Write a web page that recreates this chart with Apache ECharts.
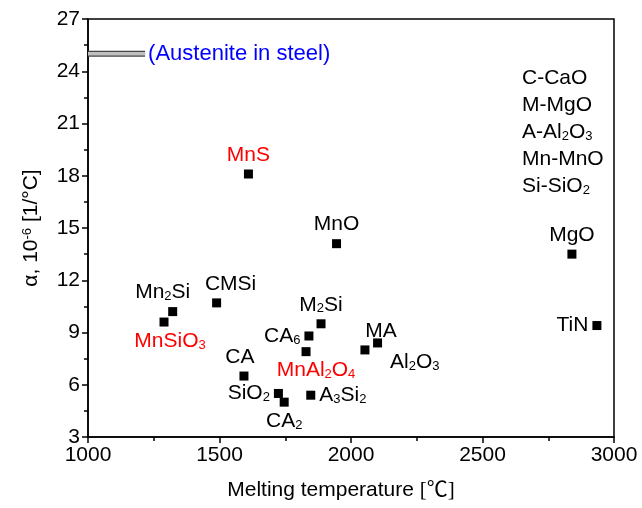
<!DOCTYPE html>
<html>
<head>
<meta charset="utf-8">
<script src="https://cdn.jsdelivr.net/npm/echarts@6/dist/echarts.min.js"></script>
<style>
    html, body { margin: 0; padding: 0; background: #fff; }
    #chart { width: 642px; height: 508px; }
</style>
</head>
<body>
<div id="chart"></div>
<script>
// data
var names    = ['MnS', 'MnO', 'MgO', 'TiN', 'Mn2Si', 'MnSiO3', 'CMSi', 'CA', 'SiO2', 'CA2', 'A3Si2', 'CA6', 'MnAl2O4', 'M2Si', 'MA', 'Al2O3'];
var meltTemp = [1610, 1945, 2840, 2935, 1322, 1289, 1489, 1593, 1724, 1746, 1847, 1840, 1829, 1886, 2053, 2101];
var alpha    = [18.1, 14.1, 13.5, 9.4, 10.2, 9.6, 10.7, 6.5, 5.5, 5.0, 5.4, 8.8, 7.9, 9.5, 8.0, 8.4];
var redNames = ['MnS', 'MnSiO3', 'MnAl2O4'];
var austenite = [[1000, 25], [1217, 25]];
var abbreviations = ['C-CaO', 'M-MgO', 'A-Al2O3', 'Mn-MnO', 'Si-SiO2'];

// where each label sits around its square
var labelPlace = {
    'MnS':     { position: 'top' },
    'MnO':     { position: 'top' },
    'MgO':     { position: 'top' },
    'TiN':     { position: 'left' },
    'Mn2Si':   { position: 'top', offset: [-10, 0] },
    'MnSiO3':  { position: 'bottom', offset: [6, 0] },
    'CMSi':    { position: 'top', offset: [14, 0] },
    'CA':      { position: 'top', offset: [-4, 0] },
    'SiO2':    { position: 'left' },
    'CA2':     { position: 'bottom' },
    'A3Si2':   { position: 'right' },
    'CA6':     { position: 'left' },
    'MnAl2O4': { position: 'bottom', offset: [10, 0] },
    'M2Si':    { position: 'top' },
    'MA':      { position: 'top', offset: [16, 0] },
    'Al2O3':   { position: 'right', offset: [4, 19] }
};

var FONT = 'Liberation Sans, Arial, sans-serif';
var FS = 21;

// digits become subscripts
function subify(s, style) {
    return s.replace(/(\d)/g, '{' + style + '|$1}');
}

var subRich = {
    s:  { fontSize: 13, color: '#000', fontFamily: FONT, verticalAlign: 'bottom' },
    sr: { fontSize: 13, color: '#ff0000', fontFamily: FONT, verticalAlign: 'bottom' }
};

var pointData = names.map(function (n, i) {
    var red = redNames.indexOf(n) >= 0;
    var lp = labelPlace[n];
    return {
        name: n,
        value: [meltTemp[i], alpha[i]],
        label: {
            show: true,
            position: lp.position,
            offset: lp.offset || [0, 0],
            distance: 4,
            color: red ? '#ff0000' : '#000',
            formatter: subify(n, red ? 'sr' : 's')
        }
    };
});

// abbreviation key, top right
var keyTexts = abbreviations.map(function (a, i) {
    return {
        type: 'text',
        left: 522, top: 68 + i * 27,
        style: {
            text: subify(a, 's'),
            font: FS + 'px ' + FONT,
            fill: '#000',
            rich: { s: { fontSize: 13, fill: '#000', fontFamily: FONT, verticalAlign: 'bottom' } }
        }
    };
});

var myChart = echarts.init(document.getElementById('chart'));
var option = {
    backgroundColor: '#fff',
    animation: false,
    textStyle: { fontFamily: FONT },
    grid: {
        left: 88, right: 28, top: 19, bottom: 71,
        show: true, borderColor: '#000', borderWidth: 1.5
    },
    xAxis: {
        type: 'value',
        min: 1000, max: 3000, interval: 500,
        name: 'Melting temperature {u|[℃]}',
        nameLocation: 'middle',
        nameGap: 43,
        nameTextStyle: {
            fontSize: FS, color: '#000', fontFamily: FONT,
            padding: [0, 20, 0, 0],
            rich: { u: { fontSize: FS, color: '#000', fontFamily: 'Liberation Serif, Noto Sans CJK SC, serif' } }
        },
        axisLine: { lineStyle: { color: '#000', width: 1.5 } },
        axisTick: { inside: false, length: 6, lineStyle: { color: '#000', width: 1.5 } },
        minorTick: { show: true, splitNumber: 2, length: 4, lineStyle: { color: '#000', width: 1.5 } },
        axisLabel: { fontSize: FS, color: '#000', margin: 8, fontFamily: FONT, formatter: function (v) { return String(v); } },
        splitLine: { show: false }
    },
    yAxis: {
        type: 'value',
        min: 3, max: 27, interval: 3,
        name: 'α, 10{sup|-6} [1/°C]',
        nameLocation: 'middle',
        nameGap: 46,
        nameRotate: 90,
        nameTextStyle: {
            fontSize: FS, color: '#000', fontFamily: FONT,
            rich: { sup: { fontSize: 13, color: '#000', fontFamily: FONT, verticalAlign: 'top' } }
        },
        axisLine: { lineStyle: { color: '#000', width: 1.5 } },
        axisTick: { inside: false, length: 6, lineStyle: { color: '#000', width: 1.5 } },
        minorTick: { show: true, splitNumber: 2, length: 4, lineStyle: { color: '#000', width: 1.5 } },
        axisLabel: { fontSize: FS, color: '#000', margin: 8, fontFamily: FONT, formatter: function (v) { return String(v); } },
        splitLine: { show: false }
    },
    graphic: keyTexts,
    series: [
        {
            type: 'line',
            data: austenite,
            symbol: 'none',
            lineStyle: { color: '#444', width: 6, cap: 'butt' },
            z: 2
        },
        {
            type: 'line',
            data: austenite,
            symbol: 'none',
            lineStyle: { color: '#c0c0c0', width: 3.5, cap: 'butt' },
            endLabel: {
                show: true,
                formatter: '(Austenite in steel)',
                color: '#0000ff',
                fontSize: 22,
                fontFamily: FONT,
                distance: 3
            },
            z: 3
        },
        {
            type: 'scatter',
            symbol: 'rect',
            symbolSize: 9,
            itemStyle: { color: '#000', opacity: 1 },
            label: { fontSize: FS, fontFamily: FONT, rich: subRich },
            data: pointData,
            z: 4
        }
    ]
};
myChart.setOption(option);
</script>
</body>
</html>
